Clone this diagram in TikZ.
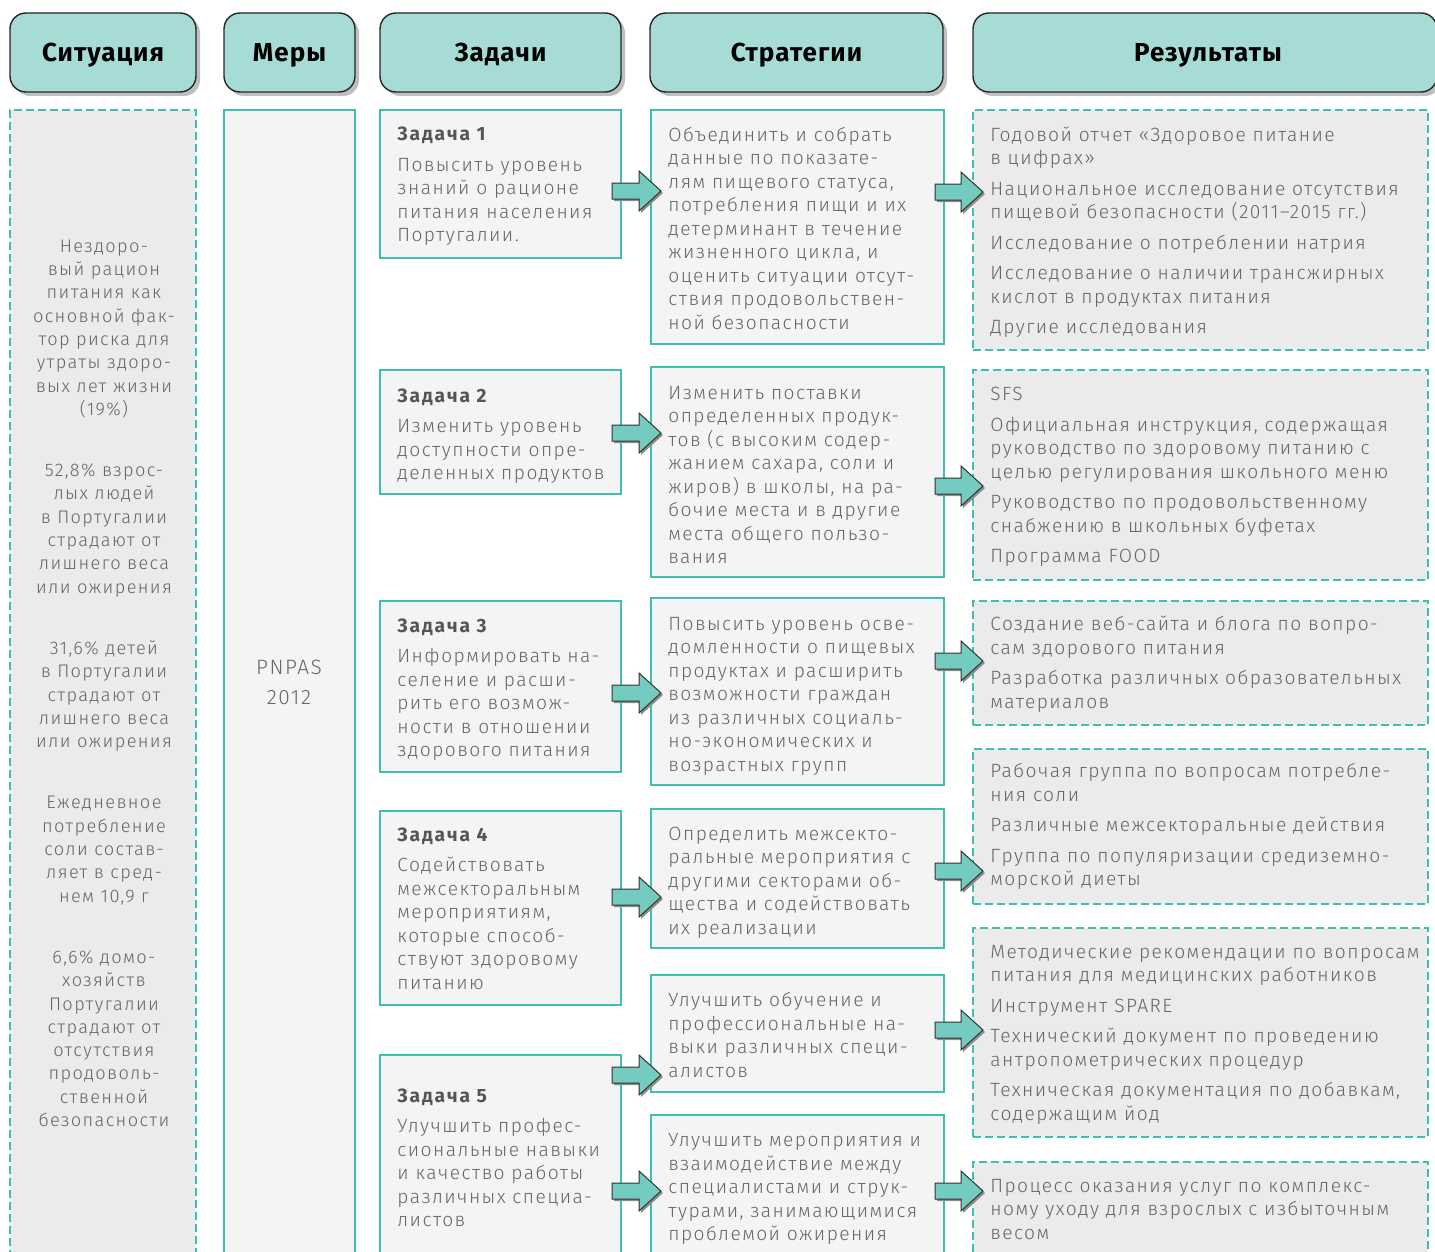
\documentclass[tikz,border=0pt]{standalone}
\usepackage{fontspec}
\setmainfont{Fira Sans Light}[LetterSpace=7.5]
\newfontfamily\headfont{Fira Sans}[LetterSpace=4]
\newfontfamily\titlefont{Fira Sans}[LetterSpace=10]
\usetikzlibrary{positioning, calc, fit, shadows}

\definecolor{headfill}{HTML}{A7DBD5}
\definecolor{tealline}{HTML}{3EBFB2}
\definecolor{arrowfill}{HTML}{74CBBF}
\definecolor{lightbox}{HTML}{F4F4F4}
\definecolor{greybox}{HTML}{EBEBEB}
\definecolor{bodygrey}{HTML}{666666}
\definecolor{titlegrey}{HTML}{555555}

\tikzset{
  headbox/.style={draw=black!85, line width=0.7pt, fill=headfill, rounded corners=8pt,
    inner sep=0pt,
    drop shadow={shadow xshift=2pt, shadow yshift=-2pt, fill=black!25, opacity=1}},
  headtext/.style={anchor=base, inner sep=0pt, font=\headfont\bfseries\fontsize{13}{15}\selectfont},
  solidbox/.style={draw=tealline, line width=1pt, fill=lightbox, inner sep=0pt},
  dashbox/.style={draw=tealline, line width=1pt, fill=greybox, dash pattern=on 4pt off 2pt, inner sep=0pt},
  bodytext/.style={anchor=north west, inner sep=0pt, align=left, text=bodygrey,
    font=\fontsize{9.6}{11.75}\selectfont},
  arrowbody/.style={draw=black!80, line width=0.5pt, fill=arrowfill,
    drop shadow={shadow xshift=1pt, shadow yshift=-1pt, fill=black!45, opacity=1}}
}

% block arrow between two boxes at height #3
\newcommand{\flowarrow}[3]{%
  \coordinate (fa-s) at ($(#1.east |- 0,#3)+(-10,0)$);
  \coordinate (fa-e) at ($(#2.west |- 0,#3)+(11,0)$);
  \draw[arrowbody] ($(fa-s)+(0,-8)$) -- ($(fa-e)+(-22,-8)$) -- ($(fa-e)+(-22,-20)$)
    -- (fa-e) -- ($(fa-e)+(-22,20)$) -- ($(fa-e)+(-22,8)$) -- ($(fa-s)+(0,8)$) -- cycle;
}
\newcommand{\tasktitle}[1]{{\titlefont\color{titlegrey}\bfseries #1}}

\begin{document}
\begin{tikzpicture}[x=0.5pt, y=-0.5pt]
  \useasboundingbox (0,0) rectangle (1435,1252);

  % Headers
  \node[headbox, fit={(10,13)(196,92)}] (hsit) {};
  \node[headbox, fit={(224,13)(355,92)}] (hmer) {};
  \node[headbox, fit={(380,13)(621,92)}] (htask) {};
  \node[headbox, fit={(650,13)(943,92)}] (hstr) {};
  \node[headbox, fit={(973,13)(1437,92)}] (hres) {};
  \node[headtext] (hsittxt) at (hsit.center |- 0,62) {Ситуация};
  \node[headtext] (hmertxt) at (hmer.center |- 0,62) {Меры};
  \node[headtext] (htasktxt) at (htask.center |- 0,62) {Задачи};
  \node[headtext] (hstrtxt) at (hstr.center |- 0,62) {Стратегии};
  \node[headtext] (hrestxt) at (1208,62) {Результаты};

  % Columns
  \node[dashbox, fit={(10,110)(196,1262)}] (sit) {};
  \node[solidbox, fit={(224,110)(355,1262)}] (mer) {};

  \node[solidbox, fit={(380,110)(621,258)}] (t1) {};
  \node[solidbox, fit={(380,370)(621,494)}] (t2) {};
  \node[solidbox, fit={(380,601)(621,772)}] (t3) {};
  \node[solidbox, fit={(380,811)(621,1005)}] (t4) {};
  \node[solidbox, fit={(380,1055)(621,1262)}] (t5) {};

  \node[solidbox, fit={(651,110)(944,344)}] (s1) {};
  \node[solidbox, fit={(651,367)(944,577)}] (s2) {};
  \node[solidbox, fit={(651,598)(944,785)}] (s3) {};
  \node[solidbox, fit={(651,809)(944,948)}] (s4) {};
  \node[solidbox, fit={(651,975)(944,1092)}] (s5) {};
  \node[solidbox, fit={(651,1115)(944,1262)}] (s6) {};

  \node[dashbox, fit={(973,110)(1428,350)}] (r1) {};
  \node[dashbox, fit={(973,370)(1428,580)}] (r2) {};
  \node[dashbox, fit={(973,601)(1428,725)}] (r3) {};
  \node[dashbox, fit={(973,749)(1428,904)}] (r4) {};
  \node[dashbox, fit={(973,928)(1428,1137)}] (r5) {};
  \node[dashbox, fit={(973,1162)(1428,1262)}] (r6) {};

  % Situation
  \node[bodytext, anchor=north, align=center, font=\fontsize{9.1}{11.65}\selectfont] (sittxt) at (104,235.5)
    {\strut Нездоро-\\вый рацион\\питания как\\основной фак-\\тор риска для\\утраты здоро-\\вых лет жизни\\(19\%)\\[19pt]
     52,8\% взрос-\\лых людей\\в Португалии\\страдают от\\лишнего веса\\или ожирения\\[19pt]
     31,6\% детей\\в Португалии\\страдают от\\лишнего веса\\или ожирения\\[19pt]
     Ежедневное\\потребление\\соли состав-\\ляет в сред-\\нем 10,9 г\\[19pt]
     6,6\% домо-\\хозяйств\\Португалии\\страдают от\\отсутствия\\продоволь-\\ственной\\безопасности};
  \node[bodytext, anchor=north, align=center, font=\fontsize{10.4}{12}\selectfont] (mertxt) at (289,657)
    {\strut PNPAS\\[3pt]2012};

  % Tasks
  \node[bodytext] (t1txt) at (397,124) {\strut\tasktitle{Задача 1}\\[3.5pt]
    Повысить уровень\\знаний о рационе\\питания населения\\Португалии.};
  \node[bodytext] (t2txt) at (397,385.3) {\strut\tasktitle{Задача 2}\\[3.5pt]
    Изменить уровень\\доступности опре-\\деленных продуктов};
  \node[bodytext] (t3txt) at (397,615.3) {\strut\tasktitle{Задача 3}\\[3.5pt]
    Информировать на-\\селение и расши-\\рить его возмож-\\ности в отношении\\здорового питания};
  \node[bodytext] (t4txt) at (397,824.3) {\strut\tasktitle{Задача 4}\\[3.5pt]
    Содействовать\\межсекторальным\\мероприятиям,\\которые способ-\\ствуют здоровому\\питанию};
  \node[bodytext] (t5txt) at (397,1085.5) {\strut\tasktitle{Задача 5}\\[3.5pt]
    Улучшить профес-\\сиональные навыки\\и качество работы\\различных специа-\\листов};

  % Strategies
  \node[bodytext] (s1txt) at (668,124.5) {\strut Объединить и собрать\\данные по показате-\\лям пищевого статуса,\\потребления пищи и их\\детерминант в течение\\жизненного цикла, и\\оценить ситуации отсут-\\ствия продовольствен-\\ной безопасности};
  \node[bodytext] (s2txt) at (668,382.5) {\strut Изменить поставки\\определенных продук-\\тов (с высоким содер-\\жанием сахара, соли и\\жиров) в школы, на ра-\\бочие места и в другие\\места общего пользо-\\вания};
  \node[bodytext] (s3txt) at (668,613.5) {\strut Повысить уровень осве-\\домленности о пищевых\\продуктах и расширить\\возможности граждан\\из различных социаль-\\но-экономических и\\возрастных групп};
  \node[bodytext] (s4txt) at (668,823.5) {\strut Определить межсекто-\\ральные мероприятия с\\другими секторами об-\\щества и содействовать\\их реализации};
  \node[bodytext] (s5txt) at (668,990) {\strut Улучшить обучение и\\профессиональные на-\\выки различных специ-\\алистов};
  \node[bodytext] (s6txt) at (668,1130) {\strut Улучшить мероприятия и\\взаимодействие между\\специалистами и струк-\\турами, занимающимися\\проблемой ожирения};

  % Results
  \node[bodytext] (r1txt) at (990,124.5) {\strut Годовой отчет «Здоровое питание\\в цифрах»\\[3.5pt]
    Национальное исследование отсутствия\\пищевой безопасности (2011–2015 гг.)\\[3.5pt]
    Исследование о потреблении натрия\\[3.5pt]
    Исследование о наличии трансжирных\\кислот в продуктах питания\\[3.5pt]
    Другие исследования};
  \node[bodytext] (r2txt) at (990,384) {\strut SFS\\[3.5pt]
    Официальная инструкция, содержащая\\руководство по здоровому питанию с\\целью регулирования школьного меню\\[3.5pt]
    Руководство по продовольственному\\снабжению в школьных буфетах\\[3.5pt]
    Программа FOOD};
  \node[bodytext] (r3txt) at (990,614) {\strut Создание веб-сайта и блога по вопро-\\сам здорового питания\\[3.5pt]
    Разработка различных образовательных\\материалов};
  \node[bodytext] (r4txt) at (990,761) {\strut Рабочая группа по вопросам потребле-\\ния соли\\[3.5pt]
    Различные межсекторальные действия\\[3.5pt]
    Группа по популяризации средиземно-\\морской диеты};
  \node[bodytext] (r5txt) at (990,941.5) {\strut Методические рекомендации по вопросам\\питания для медицинских работников\\[3.5pt]
    Инструмент SPARE\\[3.5pt]
    Технический документ по проведению\\антропометрических процедур\\[3.5pt]
    Техническая документация по добавкам,\\содержащим йод};
  \node[bodytext] (r6txt) at (990,1175.5) {\strut Процесс оказания услуг по комплекс-\\ному уходу для взрослых с избыточным\\весом};

  % Arrows: tasks to strategies
  \flowarrow{t1}{s1}{191}
  \flowarrow{t2}{s2}{433}
  \flowarrow{t3}{s3}{693}
  \flowarrow{t4}{s4}{897}
  \flowarrow{t5}{s5}{1075}
  \flowarrow{t5}{s6}{1191}

  % Arrows: strategies to results
  \flowarrow{s1}{r1}{192}
  \flowarrow{s2}{r2}{486}
  \flowarrow{s3}{r3}{661}
  \flowarrow{s4}{r4}{871}
  \flowarrow{s5}{r5}{1030}
  \flowarrow{s6}{r6}{1191}
\end{tikzpicture}
\end{document}
